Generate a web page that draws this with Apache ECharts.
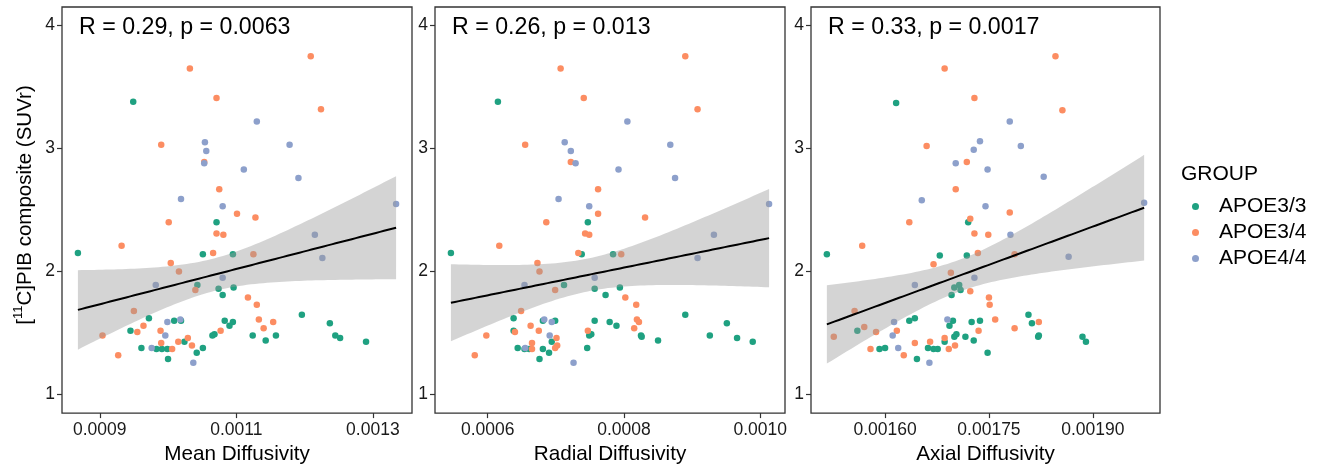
<!DOCTYPE html>
<html><head><meta charset="utf-8">
<script src="https://cdn.jsdelivr.net/npm/echarts@6/dist/echarts.min.js"></script>
<style>html,body{margin:0;padding:0;background:#fff}#c{width:1317px;height:470px}</style>
</head><body><div id="c"></div>
<script>
// ---------- DATA ----------
const GROUPS = ['APOE3/3', 'APOE3/4', 'APOE4/4'];
const X_TITLES = ['Mean Diffusivity', 'Radial Diffusivity', 'Axial Diffusivity'];
const STATS = ['R = 0.29, p = 0.0063', 'R = 0.26, p = 0.013', 'R = 0.33, p = 0.0017'];
const MD_TICKS = ['0.0009', '0.0011', '0.0013'];
const RD_TICKS = ['0.0006', '0.0008', '0.0010'];
const AD_TICKS = ['0.00160', '0.00175', '0.00190'];
const Y_TICKS = ['1', '2', '3', '4'];
const Y_LIMITS = [1, 4];

// Mean diffusivity vs SUVr
const MD_E33 = [[0.000949,3.38],[0.001071,2.40],[0.000868,2.15],[0.001051,2.14],[0.001095,2.14],[0.001043,1.89],[0.001074,1.86],[0.001080,1.81],[0.001096,1.87],[0.000972,1.62],[0.001196,1.65],[0.001083,1.60],[0.001095,1.59],[0.001090,1.56],[0.001237,1.58],[0.001009,1.60],[0.001019,1.60],[0.000945,1.52],[0.001068,1.49],[0.001065,1.48],[0.001124,1.48],[0.001158,1.48],[0.001245,1.48],[0.001252,1.46],[0.001290,1.43],[0.001143,1.44],[0.001024,1.43],[0.000961,1.38],[0.000983,1.37],[0.000991,1.37],[0.000999,1.37],[0.001051,1.38],[0.001042,1.34],[0.001000,1.29]];
const MD_E34 = [[0.001209,3.75],[0.001032,3.65],[0.001071,3.41],[0.001224,3.32],[0.000990,3.03],[0.001053,2.89],[0.001075,2.67],[0.001101,2.47],[0.001128,2.44],[0.001001,2.40],[0.001071,2.31],[0.001081,2.30],[0.000932,2.21],[0.001066,2.15],[0.001125,2.14],[0.001004,2.07],[0.001016,2.00],[0.001040,1.85],[0.001117,1.79],[0.001130,1.73],[0.000950,1.68],[0.001133,1.61],[0.001154,1.59],[0.001140,1.54],[0.000964,1.56],[0.000955,1.51],[0.000989,1.52],[0.001077,1.52],[0.000904,1.48],[0.001029,1.46],[0.001015,1.43],[0.000990,1.42],[0.001035,1.40],[0.001006,1.37],[0.000927,1.32]];
const MD_E44 = [[0.001130,3.22],[0.001054,3.05],[0.001056,2.98],[0.001053,2.88],[0.001178,3.03],[0.001111,2.83],[0.001191,2.76],[0.001019,2.59],[0.001080,2.53],[0.001334,2.55],[0.001215,2.30],[0.001226,2.11],[0.001080,1.95],[0.000982,1.89],[0.000999,1.59],[0.001018,1.61],[0.000996,1.48],[0.000976,1.38],[0.001037,1.26]];

// Radial diffusivity vs SUVr
const RD_E33 = [[0.000615,3.38],[0.000747,2.40],[0.000546,2.15],[0.000738,2.14],[0.000784,2.14],[0.000712,1.89],[0.000757,1.86],[0.000773,1.81],[0.000794,1.87],[0.000638,1.62],[0.000890,1.65],[0.000779,1.59],[0.000789,1.56],[0.000951,1.58],[0.000681,1.60],[0.000699,1.60],[0.000757,1.60],[0.000638,1.52],[0.000752,1.49],[0.000749,1.48],[0.000825,1.48],[0.000826,1.47],[0.000926,1.48],[0.000966,1.46],[0.000989,1.43],[0.000850,1.44],[0.000694,1.43],[0.000644,1.38],[0.000654,1.37],[0.000661,1.37],[0.000681,1.37],[0.000746,1.38],[0.000690,1.34],[0.000676,1.29]];
const RD_E34 = [[0.000890,3.75],[0.000707,3.65],[0.000741,3.41],[0.000908,3.32],[0.000655,3.03],[0.000722,2.89],[0.000762,2.67],[0.000762,2.47],[0.000831,2.44],[0.000686,2.40],[0.000743,2.31],[0.000749,2.30],[0.000617,2.21],[0.000733,2.15],[0.000796,2.14],[0.000673,2.07],[0.000676,2.00],[0.000699,1.85],[0.000802,1.79],[0.000818,1.73],[0.000649,1.68],[0.000819,1.61],[0.000822,1.59],[0.000815,1.54],[0.000663,1.56],[0.000640,1.51],[0.000675,1.52],[0.000747,1.52],[0.000598,1.48],[0.000701,1.46],[0.000665,1.42],[0.000702,1.40],[0.000699,1.38],[0.000665,1.37],[0.000581,1.32]];
const RD_E44 = [[0.000805,3.22],[0.000713,3.05],[0.000722,2.98],[0.000729,2.88],[0.000868,3.03],[0.000792,2.83],[0.000875,2.76],[0.000704,2.59],[0.000749,2.53],[0.001013,2.55],[0.000932,2.30],[0.000908,2.11],[0.000757,1.95],[0.000654,1.89],[0.000694,1.59],[0.000683,1.61],[0.000691,1.48],[0.000655,1.38],[0.000726,1.26]];

// Axial diffusivity vs SUVr
const AD_E33 = [[0.001616,3.37],[0.001720,2.40],[0.001516,2.14],[0.001679,2.13],[0.001718,2.13],[0.001707,1.89],[0.001700,1.87],[0.001709,1.85],[0.001696,1.81],[0.001807,1.65],[0.001698,1.60],[0.001635,1.60],[0.001643,1.62],[0.001725,1.59],[0.001737,1.60],[0.001812,1.58],[0.001693,1.56],[0.001560,1.52],[0.001700,1.47],[0.001703,1.49],[0.001716,1.47],[0.001821,1.47],[0.001822,1.48],[0.001885,1.47],[0.001890,1.43],[0.001728,1.44],[0.001686,1.43],[0.001592,1.37],[0.001600,1.38],[0.001662,1.38],[0.001670,1.37],[0.001676,1.37],[0.001646,1.29],[0.001748,1.34]];
const AD_E34 = [[0.001846,3.75],[0.001686,3.65],[0.001729,3.41],[0.001856,3.31],[0.001660,3.02],[0.001718,2.89],[0.001702,2.67],[0.001780,2.48],[0.001723,2.43],[0.001635,2.40],[0.001729,2.31],[0.001749,2.30],[0.001567,2.21],[0.001670,2.06],[0.001734,2.15],[0.001787,2.14],[0.001695,1.99],[0.001723,1.84],[0.001750,1.79],[0.001751,1.73],[0.001556,1.68],[0.001759,1.61],[0.001822,1.59],[0.001570,1.55],[0.001787,1.54],[0.001617,1.52],[0.001587,1.51],[0.001735,1.52],[0.001526,1.47],[0.001686,1.46],[0.001665,1.43],[0.001643,1.42],[0.001701,1.40],[0.001579,1.37],[0.001692,1.37],[0.001627,1.32]];
const AD_E44 = [[0.001780,3.22],[0.001737,3.06],[0.001728,2.99],[0.001796,3.02],[0.001702,2.88],[0.001748,2.83],[0.001829,2.77],[0.001653,2.58],[0.001745,2.53],[0.001974,2.56],[0.001781,2.30],[0.001865,2.12],[0.001729,1.95],[0.001643,1.89],[0.001690,1.61],[0.001613,1.59],[0.001611,1.48],[0.001619,1.38],[0.001664,1.26]];

// ---------- STYLE / LAYOUT ----------
const FONT = '"Liberation Sans", Arial, sans-serif';
const COLORS = ['#1fa181', '#fc8d62', '#8da0cb'];
const PANELS = [
  {groups: [MD_E33, MD_E34, MD_E44], ticks: MD_TICKS, left: 62, width: 350},
  {groups: [RD_E33, RD_E34, RD_E44], ticks: RD_TICKS, left: 435, width: 350},
  {groups: [AD_E33, AD_E34, AD_E44], ticks: AD_TICKS, left: 811, width: 349}
];
const TOP = 7, HEIGHT = 411;

// linear fit with 95% confidence band (like geom_smooth(method = "lm"))
function lmFit(pts) {
  const n = pts.length;
  let mx = 0, my = 0;
  pts.forEach(p => { mx += p[0]; my += p[1]; });
  mx /= n; my /= n;
  let sxx = 0, sxy = 0;
  pts.forEach(p => { sxx += (p[0]-mx)*(p[0]-mx); sxy += (p[0]-mx)*(p[1]-my); });
  const b = sxy / sxx, a = my - b * mx;
  let sse = 0;
  pts.forEach(p => { const r = p[1] - (a + b*p[0]); sse += r*r; });
  const df = n - 2, s = Math.sqrt(sse / df);
  const z = 1.959964;
  const t = z + (z*z*z + z)/(4*df) + (5*Math.pow(z,5) + 16*z*z*z + 3*z)/(96*df*df);
  const xs = pts.map(p => p[0]);
  const x0 = Math.min(...xs), x1 = Math.max(...xs);
  const band = [];
  const K = 80;
  for (let k = 0; k < K; k++) {
    const x = x0 + (x1 - x0) * k / (K - 1);
    const yh = a + b * x;
    const se = s * Math.sqrt(1/n + (x-mx)*(x-mx)/sxx);
    band.push([x, yh - t*se, yh + t*se, yh]);
  }
  return {band, x0, x1};
}

const grid = [], xAxis = [], yAxis = [], series = [], graphic = [];
const yRange = Y_LIMITS[1] - Y_LIMITS[0];

PANELS.forEach((P, i) => {
  grid.push({left: P.left, top: TOP, width: P.width, height: HEIGHT, show: true,
    borderColor: '#333', borderWidth: 1.3, backgroundColor: '#fff'});
  const all = [].concat(...P.groups);
  const xs = all.map(p => p[0]);
  const xmin = Math.min(...xs), xmax = Math.max(...xs), xr = xmax - xmin;
  const ticks = P.ticks;
  xAxis.push({
    type: 'value', gridIndex: i, min: xmin - 0.05*xr, max: xmax + 0.05*xr,
    splitLine: {show: false},
    axisLine: {show: false},
    axisTick: {show: true, length: 5, lineStyle: {color: '#333', width: 1.2}, customValues: ticks.map(Number)},
    axisLabel: {customValues: ticks.map(Number), margin: 8, fontSize: 17.5, color: '#1a1a1a', fontFamily: FONT,
      formatter: v => { const s = ticks.find(t => Math.abs(Number(t) - v) < 1e-10); return s || ''; }},
    name: X_TITLES[i], nameLocation: 'middle', nameGap: 30,
    nameTextStyle: {fontSize: 20.7, color: '#000', fontFamily: FONT}
  });
  yAxis.push({
    type: 'value', gridIndex: i, min: Y_LIMITS[0] - 0.05*yRange, max: Y_LIMITS[1] + 0.05*yRange,
    splitLine: {show: false},
    axisLine: {show: false},
    axisTick: {show: true, length: 5, lineStyle: {color: '#333', width: 1.2}, customValues: Y_TICKS.map(Number)},
    axisLabel: {customValues: Y_TICKS.map(Number), margin: 7, fontSize: 17.5, color: '#1a1a1a', fontFamily: FONT,
      formatter: v => { const s = Y_TICKS.find(t => Math.abs(Number(t) - v) < 1e-9); return s || ''; }}
  });
  P.groups.forEach((g, gi) => {
    series.push({
      type: 'scatter', name: GROUPS[gi], xAxisIndex: i, yAxisIndex: i, data: g,
      symbol: 'circle', symbolSize: 6.5, z: 2,
      itemStyle: {color: COLORS[gi], opacity: 1}, emphasis: {disabled: true}
    });
  });
  const fit = lmFit(all);
  const band = fit.band;
  series.push({
    type: 'custom', xAxisIndex: i, yAxisIndex: i, z: 3, silent: true,
    data: [[band[0][0], band[0][3]]],
    renderItem: (params, api) => {
      const up = band.map(p => api.coord([p[0], p[2]]));
      const lo = band.slice().reverse().map(p => api.coord([p[0], p[1]]));
      return {type: 'polygon', shape: {points: up.concat(lo)}, style: {fill: 'rgba(153,153,153,0.42)'}};
    }
  });
  series.push({
    type: 'line', xAxisIndex: i, yAxisIndex: i, z: 4, silent: true, showSymbol: false,
    data: band.map(p => [p[0], p[3]]), lineStyle: {color: '#000', width: 2}
  });
  graphic.push({type: 'text', x: P.left + 17, y: 28, style: {
    text: STATS[i], fontSize: 23.2, fontFamily: FONT, fill: '#000', align: 'left', verticalAlign: 'middle'}});
});

// y-axis title with superscript
graphic.push({type: 'text', x: 24, y: 205, rotation: Math.PI/2, style: {
  text: '{m|[}{s|11}{m|C]PIB composite (SUVr)}', align: 'center', verticalAlign: 'middle',
  rich: {
    m: {fontSize: 20.5, fontFamily: FONT, fill: '#000', verticalAlign: 'bottom', lineHeight: 24},
    s: {fontSize: 13, fontFamily: FONT, fill: '#000', verticalAlign: 'top', lineHeight: 13}
  }}});
// legend title
graphic.push({type: 'text', x: 1181, y: 174, style: {
  text: 'GROUP', fontSize: 21, fontFamily: FONT, fill: '#000', align: 'left', verticalAlign: 'middle'}});

const chart = echarts.init(document.getElementById('c'), null, {renderer: 'canvas'});
chart.setOption({
  animation: false,
  backgroundColor: '#fff',
  grid, xAxis, yAxis, series, graphic,
  legend: {
    data: GROUPS, orient: 'vertical', left: 1187, top: 191, icon: 'circle',
    itemWidth: 7, itemHeight: 7, itemGap: 5, selectedMode: false,
    textStyle: {fontSize: 21, fontFamily: FONT, color: '#000', padding: [0, 0, 0, 15]}
  }
});
</script></body></html>
